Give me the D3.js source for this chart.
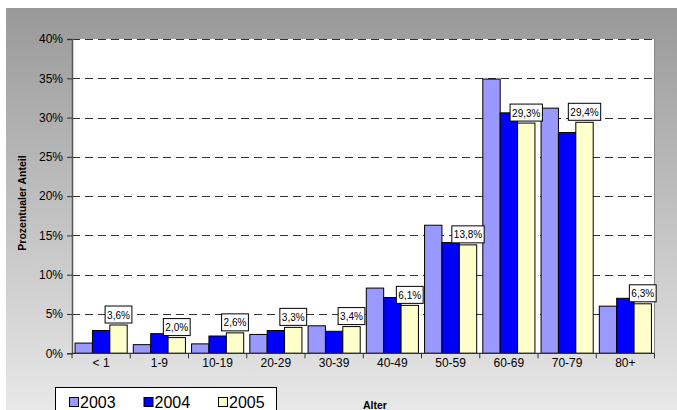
<!DOCTYPE html>
<html><head><meta charset="utf-8">
<script src="https://cdn.jsdelivr.net/npm/d3@7"></script>
<style>
body{margin:0;background:#fff}
svg{display:block;font-family:"Liberation Sans",Arial,sans-serif}
</style>
</head><body><svg id="chart" width="677" height="410"></svg>
<script>
// Altersverteilung, prozentualer Anteil je Jahr
const categories = ["< 1", "1-9", "10-19", "20-29", "30-39", "40-49", "50-59", "60-69", "70-79", "80+"];
const years = ["2003", "2004", "2005"];
const values2003 = [1.3, 1.1, 1.2, 2.4, 3.5, 8.3, 16.3, 34.9, 31.2, 6.0];
const values2004 = [2.9, 2.5, 2.2, 2.9, 2.8, 7.1, 14.1, 30.6, 28.1, 7.0];
const values2005 = [3.6, 2.0, 2.6, 3.3, 3.4, 6.1, 13.8, 29.3, 29.4, 6.3];
const yTicks = [0, 5, 10, 15, 20, 25, 30, 35, 40];
const colors = ["#9999ff", "#0000ff", "#ffffcc"];
const labelledSeries = 2; // nur 2005 trägt Werte

const series = [values2003, values2004, values2005];
const svg = d3.select("#chart");
const plot = {left: 72, right: 654.5, top: 39, bottom: 353.3};

// Hintergrund mit Verlauf
const defs = svg.append("defs");
const grad = defs.append("linearGradient").attr("id", "bg").attr("x1", 0).attr("y1", 0).attr("x2", 0).attr("y2", 1);
grad.append("stop").attr("offset", "0%").attr("stop-color", "#999999");
grad.append("stop").attr("offset", "100%").attr("stop-color", "#e8e8e8");
svg.append("rect").attr("x", 6).attr("y", 8).attr("width", 671).attr("height", 402).attr("fill", "url(#bg)");

svg.append("rect").attr("x", plot.left).attr("y", plot.top)
  .attr("width", plot.right - plot.left).attr("height", plot.bottom - plot.top).attr("fill", "#fff");

const x0 = d3.scaleBand().domain(categories).range([plot.left, plot.right]).paddingInner(0.105).paddingOuter(0.0525);
const x1 = d3.scaleBand().domain(years).range([0, x0.bandwidth()]);
const y = d3.scaleLinear().domain([0, 40]).range([plot.bottom, plot.top]);
const fmt = v => d3.format(".1f")(v).replace(".", ",") + "%";

// Gitterlinien
svg.append("g").selectAll("line").data(yTicks.filter(t => t > 0)).join("line")
  .attr("x1", plot.left).attr("x2", plot.right)
  .attr("y1", d => Math.round(y(d)) + 0.5).attr("y2", d => Math.round(y(d)) + 0.5)
  .attr("stroke", "#333").attr("stroke-width", 1).attr("stroke-dasharray", "8,5");

// rechter Rand der Zeichenfläche
svg.append("line").attr("x1", plot.right).attr("x2", plot.right).attr("y1", plot.top).attr("y2", plot.bottom)
  .attr("stroke", "#888").attr("stroke-width", 1);

// Balken
const groups = svg.append("g").selectAll("g").data(categories).join("g")
  .attr("transform", c => `translate(${x0(c)},0)`);
groups.selectAll("rect").data((c, i) => years.map((yr, s) => ({yr, s, v: series[s][i]}))).join("rect")
  .attr("x", d => x1(d.yr)).attr("width", x1.bandwidth())
  .attr("y", d => y(d.v)).attr("height", d => y(0) - y(d.v))
  .attr("fill", d => colors[d.s]).attr("stroke", "#000").attr("stroke-width", 1);

// Wertebeschriftungen
const lbl = svg.append("g").selectAll("g").data(categories).join("g")
  .attr("transform", (c, i) => {
    const cx = x0(c) + x1(years[labelledSeries]) + x1.bandwidth() / 2;
    return `translate(${cx},${y(series[labelledSeries][i]) - 2})`;
  });
lbl.each(function(c, i) {
  const g = d3.select(this);
  const t = g.append("text").attr("text-anchor", "middle").attr("y", -4.5)
    .attr("font-size", 10).attr("fill", "#000").text(fmt(series[labelledSeries][i]));
  const w = t.node().getComputedTextLength() + 4;
  g.insert("rect", "text").attr("x", -w / 2).attr("y", -17).attr("width", w).attr("height", 17)
    .attr("fill", "#fff").attr("stroke", "#000").attr("stroke-width", 1);
});

// Y-Achse
const yAxis = svg.append("g").attr("transform", `translate(${plot.left},0)`)
  .call(d3.axisLeft(y).tickValues(yTicks).tickSize(5).tickPadding(4).tickFormat(d => d + "%"));
yAxis.select(".domain").attr("stroke", "#555").attr("stroke-width", 1.5);
yAxis.selectAll(".tick line").attr("stroke", "#333");
yAxis.selectAll("text").attr("font-size", 12).attr("fill", "#000").attr("font-family", "Liberation Sans, Arial, sans-serif");

// X-Achse
const xAxisG = svg.append("g").attr("transform", `translate(0,${plot.bottom})`);
xAxisG.append("line").attr("x1", plot.left).attr("x2", plot.right).attr("stroke", "#333").attr("stroke-width", 1.2);
const boundaries = categories.map(c => x0(c) - x0.step() * x0.paddingInner() / 2).concat([plot.right]);
xAxisG.selectAll("line.tk").data(boundaries).join("line").attr("class", "tk")
  .attr("x1", d => d).attr("x2", d => d).attr("y1", 0).attr("y2", 5).attr("stroke", "#333");
xAxisG.selectAll("text").data(categories).join("text")
  .attr("x", c => x0(c) + x0.bandwidth() / 2).attr("y", 14)
  .attr("text-anchor", "middle").attr("font-size", 12).attr("fill", "#000").text(c => c);

// Achsentitel
svg.append("text").attr("x", 375).attr("y", 409).attr("text-anchor", "middle")
  .attr("font-size", 10.5).attr("font-weight", "bold").text("Alter");
svg.append("text").attr("transform", "translate(26,203) rotate(-90)").attr("text-anchor", "middle")
  .attr("font-size", 10.5).attr("font-weight", "bold").text("Prozentualer Anteil");

// Legende
const leg = svg.append("g");
leg.append("rect").attr("x", 55.5).attr("y", 387.5).attr("width", 221).attr("height", 30)
  .attr("fill", "#fff").attr("stroke", "#000").attr("stroke-width", 1);
const items = leg.selectAll("g").data(years).join("g").attr("transform", (d, i) => `translate(${69 + i * 74.5},397)`);
items.append("rect").attr("width", 9).attr("height", 9).attr("x", 0.5).attr("y", 0.5)
  .attr("fill", (d, i) => colors[i]).attr("stroke", "#000").attr("stroke-width", 1);
items.append("text").attr("x", 11).attr("y", 10.5).attr("font-size", 16).attr("fill", "#000").text(d => d);
</script>
</body></html>
